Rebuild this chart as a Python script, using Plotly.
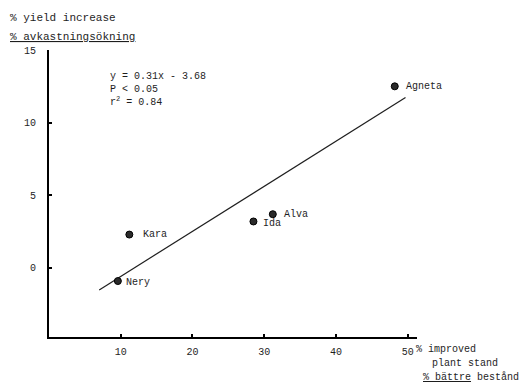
import plotly.graph_objects as go

# Varieties: % improved plant stand vs % yield increase
varieties = ["Agneta", "Kara", "Ida", "Alva", "Nery"]
plant_stand = [48.2, 11.2, 28.5, 31.2, 9.6]
yield_increase = [12.5, 2.3, 3.2, 3.7, -0.9]

# Regression reported on the chart
slope = 0.31
intercept = -3.68
fit_x = [7.0, 49.7]

x_ticks = [10, 20, 30, 40, 50]
y_ticks = [0, 5, 10, 15]

MONO = "Liberation Mono, Courier New, monospace"
INK = "#1e1e1e"

fig = go.Figure()

fig.add_trace(go.Scatter(
    x=fit_x,
    y=[slope * v + intercept for v in fit_x],
    mode="lines",
    line=dict(color=INK, width=1.2),
    hoverinfo="skip",
    showlegend=False,
))

fig.add_trace(go.Scatter(
    x=plant_stand,
    y=yield_increase,
    mode="markers",
    marker=dict(size=7, color="#2a2a2a", line=dict(color="#000", width=1)),
    showlegend=False,
))

# point labels, offset to the right of each marker (pixels)
label_shift = {"Agneta": 9, "Kara": 12, "Ida": 8, "Alva": 9, "Nery": 6}
label_yshift = {"Agneta": 0, "Kara": 0, "Ida": -2, "Alva": 0, "Nery": -1}
for name, xv, yv in zip(varieties, plant_stand, yield_increase):
    fig.add_annotation(
        x=xv, y=yv, text=name, showarrow=False,
        xanchor="left", yanchor="middle",
        xshift=label_shift[name], yshift=label_yshift[name],
        font=dict(family=MONO, size=10, color=INK),
    )

# regression statistics
fig.add_annotation(
    xref="paper", yref="paper", x=0, y=1,
    xshift=59, yshift=-19, xanchor="left", yanchor="top", align="left",
    text=f"y = {slope}x - {abs(intercept)}<br>P < 0.05<br>r<sup>2</sup> = 0.84",
    showarrow=False,
    font=dict(family=MONO, size=10, color=INK),
)

# y axis title (English / Swedish)
fig.add_annotation(
    xref="paper", yref="paper", x=0, y=1, xshift=-41, yshift=32,
    xanchor="left", yanchor="middle", showarrow=False,
    text="% yield increase",
    font=dict(family=MONO, size=11, color=INK),
)
fig.add_annotation(
    xref="paper", yref="paper", x=0, y=1, xshift=-41, yshift=13,
    xanchor="left", yanchor="middle", showarrow=False,
    text="<u>% avkastningsökning</u>",
    font=dict(family=MONO, size=11, color=INK),
)

# x axis title (English / Swedish)
fig.add_annotation(
    xref="paper", yref="paper", x=1, y=0, xshift=-3, yshift=-12,
    xanchor="left", yanchor="middle", showarrow=False,
    text="% improved",
    font=dict(family=MONO, size=10, color=INK),
)
fig.add_annotation(
    xref="paper", yref="paper", x=1, y=0, xshift=13, yshift=-26,
    xanchor="left", yanchor="middle", showarrow=False,
    text="plant stand",
    font=dict(family=MONO, size=10, color=INK),
)
fig.add_annotation(
    xref="paper", yref="paper", x=1, y=0, xshift=4, yshift=-40,
    xanchor="left", yanchor="middle", showarrow=False,
    text="<u>% bättre</u> bestånd",
    font=dict(family=MONO, size=10, color=INK),
)

fig.update_xaxes(
    range=[0, 51.3], tickvals=x_ticks, ticktext=[str(v) for v in x_ticks],
    showline=True, linecolor="#000", linewidth=2, mirror=False,
    ticks="inside", ticklen=3, tickcolor="#000", tickwidth=1.5,
    showgrid=False, zeroline=False,
    tickfont=dict(family=MONO, size=10, color=INK),
    ticklabelstandoff=4,
)
fig.update_yaxes(
    range=[-4.75, 15], tickvals=y_ticks, ticktext=[str(v) for v in y_ticks],
    showline=True, linecolor="#000", linewidth=2, mirror=False,
    ticks="inside", ticklen=3, tickcolor="#000", tickwidth=1.5,
    showgrid=False, zeroline=False,
    tickfont=dict(family=MONO, size=10, color=INK),
    ticklabelstandoff=9,
)

fig.update_layout(
    width=519, height=382,
    margin=dict(l=49, r=102, t=50, b=45),
    paper_bgcolor="white", plot_bgcolor="white",
    showlegend=False,
)

fig.write_html("out.html")
